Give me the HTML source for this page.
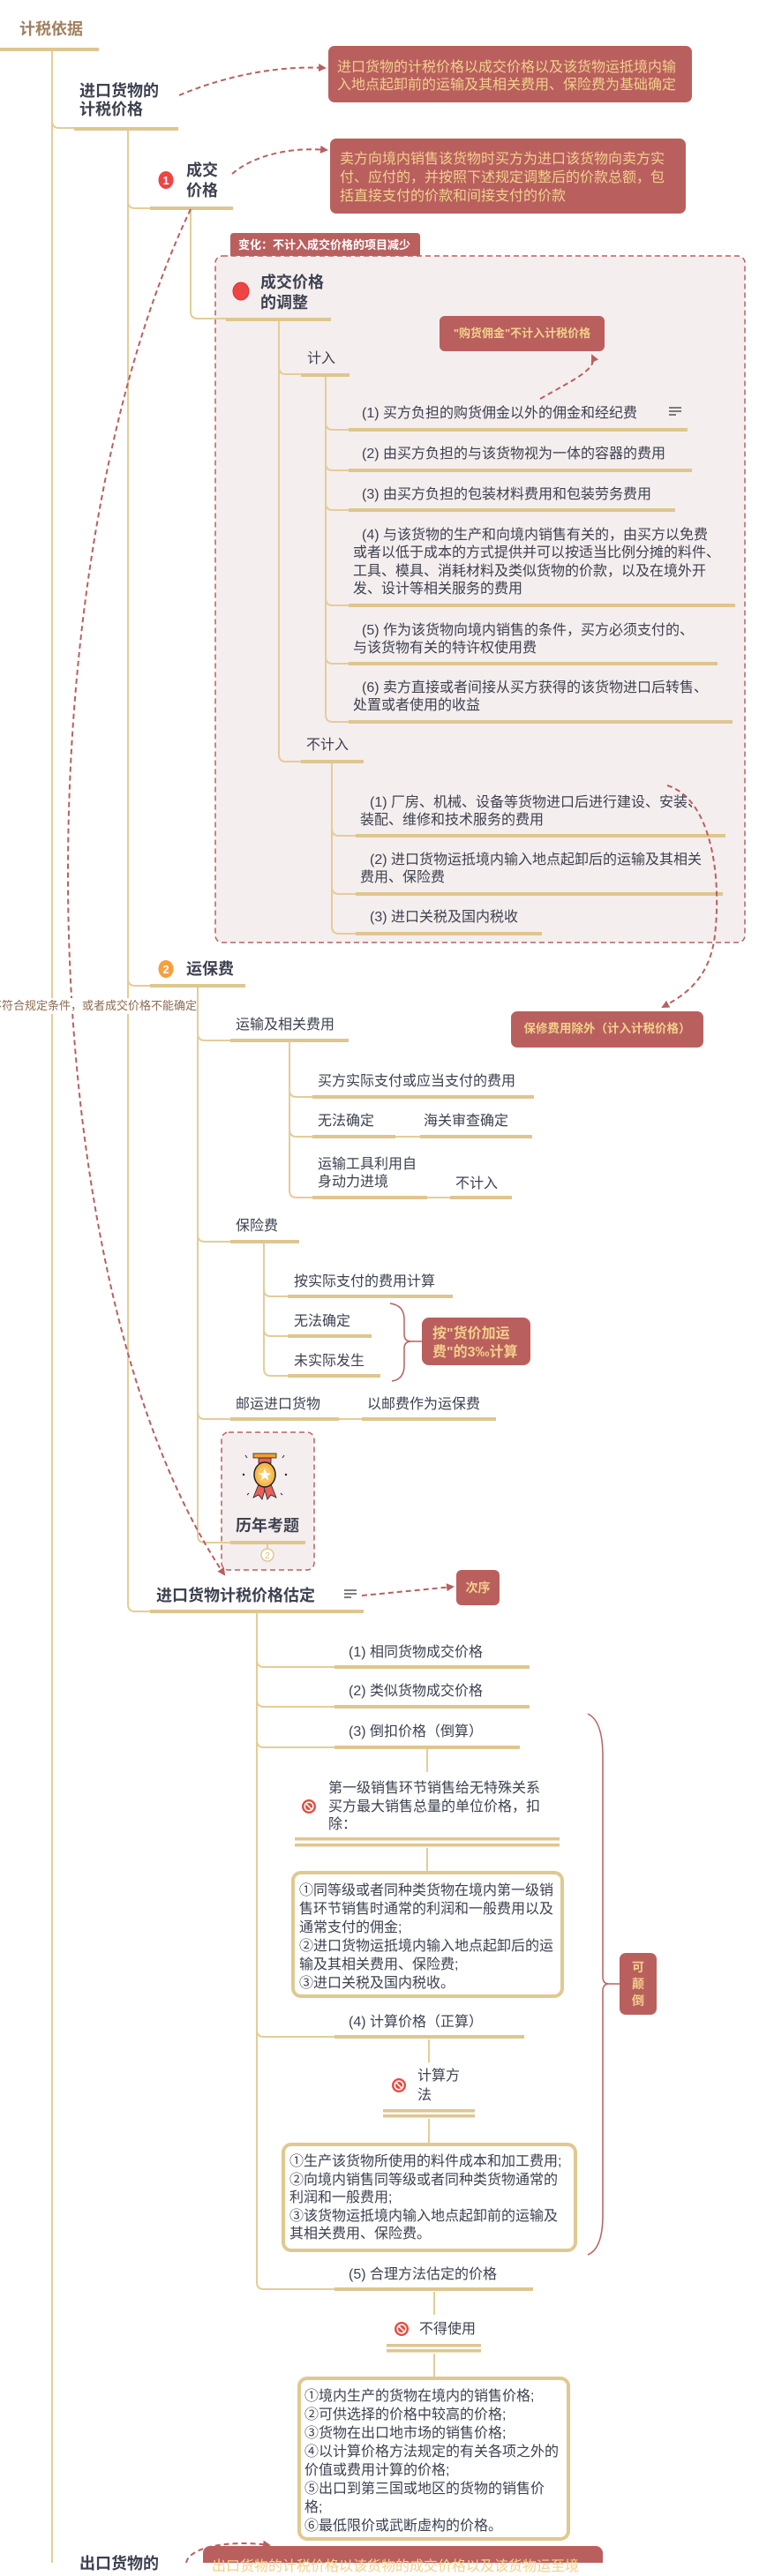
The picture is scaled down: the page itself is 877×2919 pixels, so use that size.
<!DOCTYPE html>
<html><head><meta charset="utf-8">
<style>
html,body{margin:0;padding:0;background:#fff}
body{width:877px;height:2904px;overflow:hidden;position:relative}
.t{position:absolute;white-space:nowrap;font-family:"Liberation Sans","Noto Sans CJK SC",sans-serif;color:#3d4150;font-size:16px;line-height:20px;z-index:2}
.b{font-weight:bold;font-size:18px;line-height:22px}
.g{color:#f2d08a}
svg{position:absolute;left:0;top:0;z-index:1}
</style></head><body>
<svg width="877" height="2904" viewBox="0 0 877 2904">
<defs>
<marker id="ar" markerWidth="9" markerHeight="9" refX="7" refY="4.5" orient="auto" markerUnits="userSpaceOnUse"><path d="M0,0 L9,4.5 L0,9 Z" fill="#b9605f"/></marker>
</defs>
<!-- dashed boxes -->
<rect x="244" y="290" width="600" height="778" rx="8" fill="#f5eeee" stroke="#b9605f" stroke-width="1.5" stroke-dasharray="6,4"/>
<path d="M261,290 V268 Q261,264 265,264 H472 Q476,264 476,268 V290 Z" fill="#b9605f"/>
<rect x="251" y="1623" width="105" height="156" rx="8" fill="#f5eeee" stroke="#b9605f" stroke-width="1.5" stroke-dasharray="6,4"/>
<!-- red callout boxes -->
<rect x="372" y="52" width="412" height="64" rx="7" fill="#b9605f"/>
<rect x="374" y="157" width="403" height="85" rx="7" fill="#b9605f"/>
<rect x="498" y="358" width="187" height="40" rx="6" fill="#b9605f"/>
<rect x="579" y="1146" width="218" height="41" rx="7" fill="#b9605f"/>
<rect x="478" y="1493" width="123" height="54" rx="8" fill="#b9605f"/>
<rect x="517" y="1779" width="49" height="40" rx="6" fill="#b9605f"/>
<rect x="702" y="2213" width="42" height="70" rx="7" fill="#b9605f"/>
<rect x="230" y="2885" width="453" height="60" rx="8" fill="#b9605f"/>
<!-- tan bordered boxes -->
<rect x="332" y="2122" width="305" height="140" rx="9" fill="#fff" stroke="#e0c890" stroke-width="4"/>
<rect x="321" y="2430" width="331" height="120" rx="9" fill="#fff" stroke="#e0c890" stroke-width="4"/>
<rect x="339" y="2695" width="305" height="182" rx="9" fill="#fff" stroke="#e0c890" stroke-width="4"/>
<!-- thin tree lines -->
<g stroke="#e3cd98" stroke-width="2" fill="none">
<path d="M59,56 V2904"/>
<path d="M59,137 Q59,145 67,145 H84"/>
<path d="M145,147 V1818 Q145,1826 153,1826 H170"/>
<path d="M145,228 Q145,236 153,236 H170"/>
<path d="M145,1109 Q145,1117 153,1117 H170"/>
<path d="M216,237 V353 Q216,361 224,361 H256"/>
<path d="M316,363 V855 Q316,863 324,863 H341"/>
<path d="M316,416 Q316,424 324,424 H341"/>
<path d="M369,426 V810 Q369,818 377,818 H395"/>
<path d="M369,479 Q369,487 377,487 H395"/>
<path d="M369,525 Q369,533 377,533 H395"/>
<path d="M369,570 Q369,578 377,578 H395"/>
<path d="M369,678 Q369,686 377,686 H395"/>
<path d="M369,744 Q369,752 377,752 H395"/>
<path d="M376,865 V1050 Q376,1058 384,1058 H403"/>
<path d="M376,939 Q376,947 384,947 H403"/>
<path d="M376,1005 Q376,1013 384,1013 H403"/>
<path d="M224,1119 V1740 Q224,1748 232,1748 H261"/>
<path d="M224,1171 Q224,1179 232,1179 H261"/>
<path d="M224,1399 Q224,1407 232,1407 H261"/>
<path d="M224,1600 Q224,1608 232,1608 H261"/>
<path d="M328,1181 V1349 Q328,1357 336,1357 H354"/>
<path d="M328,1235 Q328,1243 336,1243 H354"/>
<path d="M328,1280 Q328,1288 336,1288 H354"/>
<path d="M299,1409 V1551 Q299,1559 307,1559 H326"/>
<path d="M299,1461 Q299,1469 307,1469 H326"/>
<path d="M299,1506 Q299,1514 307,1514 H326"/>
<path d="M291,1828 V2586 Q291,2594 299,2594 H379"/>
<path d="M291,1881 Q291,1889 299,1889 H379"/>
<path d="M291,1926 Q291,1934 299,1934 H379"/>
<path d="M291,1972 Q291,1980 299,1980 H379"/>
<path d="M291,2300 Q291,2308 299,2308 H379"/>
<path d="M448,1288 H476 M484,1357 H510 M384,1608 H410"/>
<path d="M484,1982 V2008 M484,2094 V2120 M486,2311 V2337 M486,2401 V2428 M492,2597 V2623 M492,2667 V2693 M303,1750 V1755"/>
</g>
<circle cx="303" cy="1762" r="7" fill="#fff" stroke="#e0c890" stroke-width="1.5"/>
<text x="303" y="1766" font-size="10" text-anchor="middle" fill="#d8bd80" font-family="Liberation Sans, sans-serif">2</text>
<!-- bars -->
<g fill="#dec68f">
<rect x="0" y="54" width="112" height="4"/>
<rect x="84" y="144" width="118" height="4"/>
<rect x="170" y="234" width="94" height="4"/>
<rect x="256" y="360" width="119" height="4"/>
<rect x="341" y="423" width="55" height="4"/>
<rect x="395" y="485" width="384" height="4"/>
<rect x="395" y="531" width="389" height="4"/>
<rect x="395" y="576" width="370" height="4"/>
<rect x="395" y="684" width="438" height="4"/>
<rect x="395" y="750" width="418" height="4"/>
<rect x="395" y="816" width="435" height="4"/>
<rect x="341" y="861" width="71" height="4"/>
<rect x="403" y="945" width="419" height="4"/>
<rect x="403" y="1011" width="416" height="4"/>
<rect x="403" y="1056" width="211" height="4"/>
<rect x="170" y="1115" width="108" height="4"/>
<rect x="261" y="1177" width="134" height="4"/>
<rect x="354" y="1241" width="251" height="4"/>
<rect x="354" y="1286" width="94" height="4"/>
<rect x="476" y="1286" width="127" height="4"/>
<rect x="354" y="1355" width="130" height="4"/>
<rect x="510" y="1355" width="70" height="4"/>
<rect x="261" y="1405" width="78" height="4"/>
<rect x="326" y="1467" width="187" height="4"/>
<rect x="326" y="1512" width="95" height="4"/>
<rect x="326" y="1557" width="105" height="4"/>
<rect x="261" y="1606" width="123" height="4"/>
<rect x="410" y="1606" width="152" height="4"/>
<rect x="261" y="1746" width="85" height="4"/>
<rect x="170" y="1824" width="242" height="4"/>
<rect x="379" y="1887" width="221" height="4"/>
<rect x="379" y="1932" width="221" height="4"/>
<rect x="379" y="1978" width="210" height="4"/>
<rect x="379" y="2306" width="215" height="4"/>
<rect x="379" y="2592" width="225" height="4"/>
<rect x="334" y="2082" width="300" height="3.5"/>
<rect x="334" y="2089" width="300" height="3.5"/>
<rect x="434" y="2390" width="104" height="3.5"/>
<rect x="434" y="2396" width="104" height="3.5"/>
<rect x="438" y="2656" width="107" height="3.5"/>
<rect x="438" y="2662" width="107" height="3.5"/>
</g>
<!-- dashed connectors -->
<g stroke="#b9605f" stroke-width="2" fill="none" stroke-dasharray="6,4">
<path d="M203,108 C250,88 310,74 368,77" marker-end="url(#ar)"/>
<path d="M263,197 C285,178 325,166 370,170" marker-end="url(#ar)"/>
<path d="M612,452 C650,430 678,418 671,403" marker-end="url(#ar)"/>
<path d="M756,890 C805,905 818,990 810,1060 C804,1110 775,1128 751,1141" marker-end="url(#ar)"/>
<path d="M216,237 C20,650 30,1450 254,1784" marker-end="url(#ar)"/>
<path d="M410,1808 L513,1798" marker-end="url(#ar)"/>
<path d="M211,2904 C214,2886 260,2878 305,2884" marker-end="url(#ar)"/>
</g>
<!-- brackets -->
<g stroke="#b9605f" stroke-width="1.5" fill="none">
<path d="M442,1477 Q458,1479 458,1495 L458,1512 Q458,1520 466,1520 Q458,1520 458,1528 L458,1547 Q458,1563 444,1565"/>
<path d="M466,1520 H478"/>
<path d="M666,1942 Q683,1950 683,1990 L683,2240 Q683,2248 690,2248 Q683,2248 683,2256 L683,2510 Q683,2548 666,2555"/>
<path d="M690,2248 H702"/>
</g>
<!-- icons -->
<ellipse cx="188" cy="204" rx="8.5" ry="10" fill="#ef4444"/>
<text x="188" y="209" font-size="13" font-weight="bold" text-anchor="middle" fill="#fff" font-family="Liberation Sans, sans-serif">1</text>
<ellipse cx="188" cy="1098" rx="8.5" ry="10" fill="#f5a03c"/>
<text x="188" y="1103" font-size="13" font-weight="bold" text-anchor="middle" fill="#fff" font-family="Liberation Sans, sans-serif">2</text>
<ellipse cx="273" cy="330" rx="9" ry="10" fill="#ef4444" stroke="#d63333" stroke-width="1"/>
<g>
<circle cx="350" cy="2047" r="8" fill="#e84a3f"/><circle cx="350" cy="2047" r="4.8" fill="none" stroke="#fff" stroke-width="1.6"/><path d="M346.8,2043.8 L353.2,2050.2" stroke="#fff" stroke-width="1.6"/>
<circle cx="452" cy="2363" r="8" fill="#e84a3f"/><circle cx="452" cy="2363" r="4.8" fill="none" stroke="#fff" stroke-width="1.6"/><path d="M448.8,2359.8 L455.2,2366.2" stroke="#fff" stroke-width="1.6"/>
<circle cx="455" cy="2639" r="8" fill="#e84a3f"/><circle cx="455" cy="2639" r="4.8" fill="none" stroke="#fff" stroke-width="1.6"/><path d="M451.8,2635.8 L458.2,2642.2" stroke="#fff" stroke-width="1.6"/>
</g>
<g stroke="#555" stroke-width="1.6">
<path d="M758,462 H772 M758,466 H772 M758,470 H766"/>
<path d="M390,1802 H404 M390,1806 H404 M390,1810 H398"/>
</g>
<!-- medal -->
<g>
<path d="M293,1682 L287,1697 L293,1694 L297,1699 L301,1685 Z" fill="#e8605a" stroke="#222" stroke-width="0.8"/>
<path d="M307,1682 L313,1697 L307,1694 L303,1699 L299,1685 Z" fill="#e8605a" stroke="#222" stroke-width="0.8"/>
<rect x="293" y="1652" width="14" height="6" fill="#e8605a" stroke="#222" stroke-width="0.8"/>
<rect x="287" y="1647" width="26" height="5" fill="#f0a030" stroke="#222" stroke-width="0.8"/>
<ellipse cx="300" cy="1671" rx="12" ry="14" fill="#f5b84a" stroke="#222" stroke-width="1.5"/>
<ellipse cx="300" cy="1671" rx="8" ry="9.5" fill="#f8c860"/>
<path d="M300,1664 L302,1669 L307,1669.5 L303,1672.5 L304.5,1677.5 L300,1674.5 L295.5,1677.5 L297,1672.5 L293,1669.5 L298,1669 Z" fill="#fff"/>
<circle cx="276" cy="1671" r="1.2" fill="#222"/><circle cx="324" cy="1671" r="1.2" fill="#222"/>
<path d="M280,1652 l-2,-3 M320,1652 l2,-3 M282,1692 l-2,2 M318,1692 l2,2" stroke="#222" stroke-width="1"/>
</g>
</svg>

<div class="t b" style="left:22px;top:22px;color:#a08060">计税依据</div>
<div class="t b" style="left:90px;top:93px;line-height:21px">进口货物的<br>计税价格</div>
<div class="t g" style="left:382px;top:67px;line-height:19.5px">进口货物的计税价格以成交价格以及该货物运抵境内输<br>入地点起卸前的运输及其相关费用、保险费为基础确定</div>
<div class="t b" style="left:211px;top:182px;line-height:23px">成交<br>价格</div>
<div class="t g" style="left:385px;top:170px;line-height:21px">卖方向境内销售该货物时买方为进口该货物向卖方实<br>付、应付的，并按照下述规定调整后的价款总额，包<br>括直接支付的价款和间接支付的价款</div>
<div class="t" style="left:270px;top:269px;font-size:13px;line-height:18px;font-weight:bold;color:#fff">变化：不计入成交价格的项目减少</div>
<div class="t b" style="left:295px;top:309px;line-height:23px">成交价格<br>的调整</div>
<div class="t" style="left:348px;top:397px">计入</div>
<div class="t g" style="left:498px;width:187px;text-align:center;top:369px;font-size:13px;line-height:18px;font-weight:bold">"购货佣金"不计入计税价格</div>
<div class="t" style="left:410px;top:459px">(1) 买方负担的购货佣金以外的佣金和经纪费</div>
<div class="t" style="left:410px;top:505px">(2) 由买方负担的与该货物视为一体的容器的费用</div>
<div class="t" style="left:410px;top:551px">(3) 由买方负担的包装材料费用和包装劳务费用</div>
<div class="t" style="left:400px;top:597px;line-height:20.3px"><span style="padding-left:10px">(4) 与该货物的生产和向境内销售有关的，由买方以免费</span><br>或者以低于成本的方式提供并可以按适当比例分摊的料件、<br>工具、模具、消耗材料及类似货物的价款，以及在境外开<br>发、设计等相关服务的费用</div>
<div class="t" style="left:400px;top:705px"><span style="padding-left:10px">(5) 作为该货物向境内销售的条件，买方必须支付的、</span><br>与该货物有关的特许权使用费</div>
<div class="t" style="left:400px;top:770px"><span style="padding-left:10px">(6) 卖方直接或者间接从买方获得的该货物进口后转售、</span><br>处置或者使用的收益</div>
<div class="t" style="left:347px;top:835px">不计入</div>
<div class="t" style="left:408px;top:900px;line-height:19.5px"><span style="padding-left:11px">(1) 厂房、机械、设备等货物进口后进行建设、安装、</span><br>装配、维修和技术服务的费用</div>
<div class="t" style="left:408px;top:965px;line-height:20px"><span style="padding-left:11px">(2) 进口货物运抵境内输入地点起卸后的运输及其相关</span><br>费用、保险费</div>
<div class="t" style="left:419px;top:1030px">(3) 进口关税及国内税收</div>
<div class="t g" style="left:579px;width:218px;text-align:center;top:1157px;font-size:13.5px;line-height:18px;font-weight:bold">保修费用除外（计入计税价格）</div>
<div class="t b" style="left:211px;top:1087px">运保费</div>
<div class="t" style="left:-11px;top:1131px;font-size:13px;line-height:18px;color:#8b6b52;background:#fff">不符合规定条件，或者成交价格不能确定</div>
<div class="t" style="left:267px;top:1152px">运输及相关费用</div>
<div class="t" style="left:360px;top:1216px">买方实际支付或应当支付的费用</div>
<div class="t" style="left:360px;top:1261px">无法确定</div>
<div class="t" style="left:480px;top:1261px">海关审查确定</div>
<div class="t" style="left:360px;top:1310px">运输工具利用自<br>身动力进境</div>
<div class="t" style="left:516px;top:1332px">不计入</div>
<div class="t" style="left:267px;top:1380px">保险费</div>
<div class="t" style="left:333px;top:1443px">按实际支付的费用计算</div>
<div class="t" style="left:333px;top:1488px">无法确定</div>
<div class="t" style="left:333px;top:1533px">未实际发生</div>
<div class="t g" style="left:490px;top:1501px;line-height:21px;font-weight:bold">按"货价加运<br>费"的3‰计算</div>
<div class="t" style="left:267px;top:1582px">邮运进口货物</div>
<div class="t" style="left:416px;top:1582px">以邮费作为运保费</div>
<div class="t b" style="left:267px;top:1718px">历年考题</div>
<div class="t b" style="left:177px;top:1797px">进口货物计税价格估定</div>
<div class="t g" style="left:517px;width:49px;text-align:center;top:1790px;font-size:14px;line-height:18px;font-weight:bold">次序</div>
<div class="t" style="left:395px;top:1863px">(1) 相同货物成交价格</div>
<div class="t" style="left:395px;top:1907px">(2) 类似货物成交价格</div>
<div class="t" style="left:395px;top:1953px">(3) 倒扣价格（倒算）</div>
<div class="t" style="left:372px;top:2017px;line-height:20.5px">第一级销售环节销售给无特殊关系<br>买方最大销售总量的单位价格，扣<br>除：</div>
<div class="t" style="left:339px;top:2132px;line-height:21px">①同等级或者同种类货物在境内第一级销<br>售环节销售时通常的利润和一般费用以及<br>通常支付的佣金;<br>②进口货物运抵境内输入地点起卸后的运<br>输及其相关费用、保险费;<br>③进口关税及国内税收。</div>
<div class="t" style="left:395px;top:2282px">(4) 计算价格（正算）</div>
<div class="t" style="left:473px;top:2342px;line-height:22px">计算方<br>法</div>
<div class="t" style="left:328px;top:2440px;line-height:20.5px">①生产该货物所使用的料件成本和加工费用;<br>②向境内销售同等级或者同种类货物通常的<br>利润和一般费用;<br>③该货物运抵境内输入地点起卸前的运输及<br>其相关费用、保险费。</div>
<div class="t" style="left:395px;top:2568px">(5) 合理方法估定的价格</div>
<div class="t" style="left:475px;top:2630px">不得使用</div>
<div class="t" style="left:345px;top:2705px;line-height:21px">①境内生产的货物在境内的销售价格;<br>②可供选择的价格中较高的价格;<br>③货物在出口地市场的销售价格;<br>④以计算价格方法规定的有关各项之外的<br>价值或费用计算的价格;<br>⑤出口到第三国或地区的货物的销售价<br>格;<br>⑥最低限价或武断虚构的价格。</div>
<div class="t g" style="left:702px;width:42px;text-align:center;top:2220px;font-size:14px;line-height:19px;font-weight:bold">可<br>颠<br>倒</div>
<div class="t b" style="left:90px;top:2894px">出口货物的</div>
<div class="t g" style="left:240px;top:2899px">出口货物的计税价格以该货物的成交价格以及该货物运至境</div>
</body></html>
